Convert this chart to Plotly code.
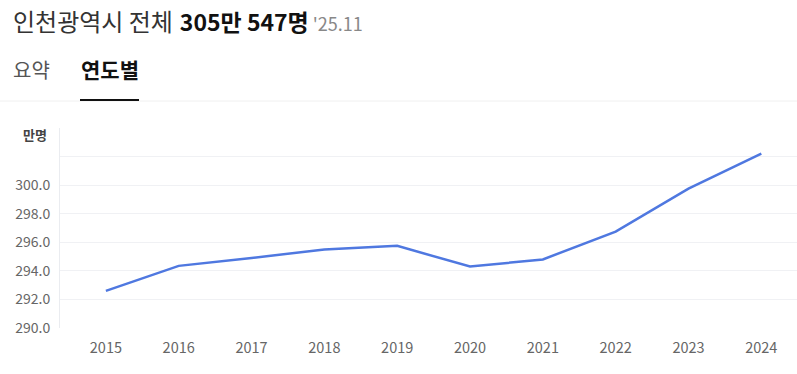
import plotly.graph_objects as go

years = [2015, 2016, 2017, 2018, 2019, 2020, 2021, 2022, 2023, 2024]
population = [292.6, 294.35, 294.9, 295.5, 295.75, 294.3, 294.8, 296.75, 299.75, 302.2]
y_ticks = [290, 292, 294, 296, 298, 300, 302, 304]
y_labels = ["290.0", "292.0", "294.0", "296.0", "298.0", "300.0", "", ""]

W, H = 797, 374
L, R, T, B = 60, 0, 128, 46
PW = W - L - R
PH = H - T - B

def px(x):
    return (x - L) / PW

def py(y):
    return (H - B - y) / PH

font = "Noto Sans CJK KR"

fig = go.Figure()
fig.add_trace(go.Scatter(
    x=years, y=population, mode="lines",
    line=dict(color="#4f78e0", width=2.5),
    hoverinfo="skip", showlegend=False,
))

fig.update_layout(
    width=W, height=H,
    margin=dict(l=L, r=R, t=T, b=B),
    paper_bgcolor="white", plot_bgcolor="white",
    font=dict(family=font, color="#666666", size=14),
    xaxis=dict(
        range=[2014.37, 2024.49], tickvals=years, ticktext=[str(y) for y in years],
        showgrid=False, zeroline=False, showline=False,
        ticks="outside", ticklen=7, tickcolor="rgba(0,0,0,0)",
        tickfont=dict(size=14.5, color="#666666"), fixedrange=True,
    ),
    yaxis=dict(
        range=[290, 304], tickvals=y_ticks, ticktext=y_labels,
        showgrid=True, gridcolor="#f0f1f4", gridwidth=1,
        zeroline=False, showline=True, linecolor="#eaecf0", linewidth=1,
        ticks="outside", ticklen=6, tickcolor="rgba(0,0,0,0)",
        tickfont=dict(size=14, color="#666666"), fixedrange=True,
    ),
    annotations=[
        dict(xref="paper", yref="paper", x=px(11), y=py(20), xanchor="left", yanchor="middle",
             showarrow=False,
             text="<span style='color:#333333;font-size:24px'>인천광역시 전체&#8202; </span>"
                  "<b style='color:#111111;font-size:23px'>305만 547명</b>"
                  "<span style='color:#888888;font-size:18px'> '25.11</span>"),
        dict(xref="paper", yref="paper", x=px(11), y=py(69), xanchor="left", yanchor="middle",
             showarrow=False, text="요약", font=dict(size=20, color="#555555")),
        dict(xref="paper", yref="paper", x=px(79), y=py(69), xanchor="left", yanchor="middle",
             showarrow=False, text="<b>연도별</b>", font=dict(size=21, color="#111111")),
        dict(xref="paper", yref="paper", x=px(49), y=py(134), xanchor="right", yanchor="middle",
             showarrow=False, text="<b>만명</b>", font=dict(size=13, color="#444444")),
    ],
    shapes=[
        dict(type="line", xref="paper", yref="paper", x0=px(0), x1=px(W), y0=py(101), y1=py(101),
             line=dict(color="#f0f0f0", width=1)),
        dict(type="line", xref="paper", yref="paper", x0=px(80), x1=px(139), y0=py(100), y1=py(100),
             line=dict(color="#111111", width=2)),
    ],
)

fig.write_html(
    "out.html",
    config={"displayModeBar": False, "staticPlot": True},
    post_script="document.body.style.margin='0';",
)
